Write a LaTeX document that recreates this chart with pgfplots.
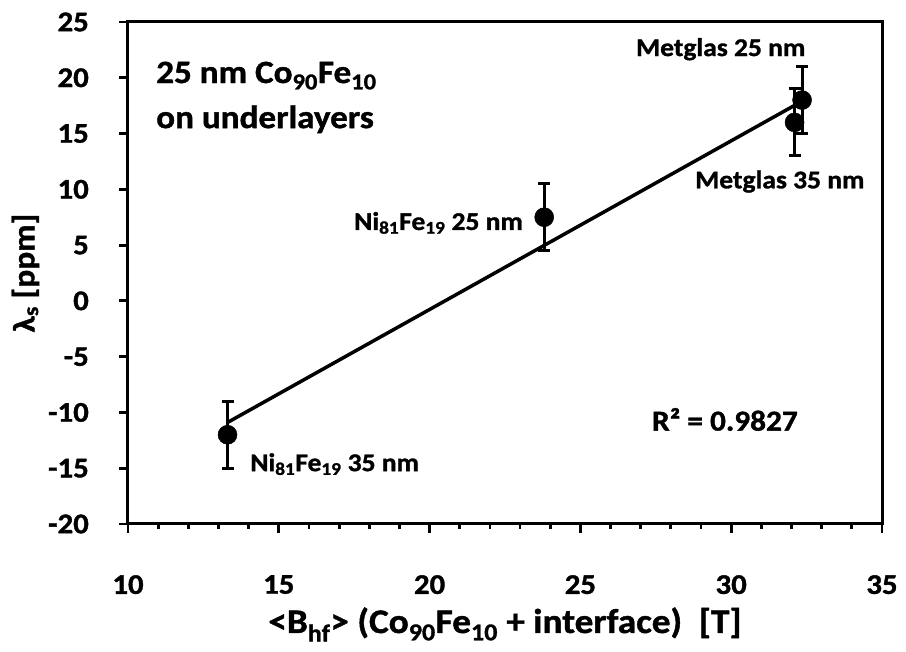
\documentclass[border=0pt]{standalone}
\usepackage{pgfplots}
\pgfplotsset{compat=1.18}
\usepackage{fontspec}
\setmainfont{Carlito}[BoldFont={Carlito Bold}, BoldFeatures={FakeStretch=1.08, FakeBold=1.2}]

% magnetostriction vs hyperfine field
\pgfplotstableread{
x      y     e
13.3  -12.0  3
23.8    7.5  3
32.1   16.0  3
32.35  18.0  3
}\lambdadata

\begin{document}
\begin{tikzpicture}
\useasboundingbox (-128pt,-128pt) rectangle (778pt,524pt);
\begin{axis}[
  scale only axis,
  width=754pt, height=502pt,
  xmin=10, xmax=35, ymin=-20, ymax=25,
  xtick={10,15,...,35}, ytick={-20,-15,...,25},
  minor x tick num=4,
  xtick pos=left, ytick pos=left,
  tick align=outside,
  major tick length=9pt, minor tick length=5pt,
  every tick/.style={black, line width=2.8pt},
  axis line style={black, line width=3pt},
  /pgf/number format/assume math mode=true,
  ticklabel style={font=\fontsize{28.5}{34}\selectfont\bfseries},
  yticklabel style={anchor=east, inner sep=0pt, xshift=-30pt},
  xticklabel style={anchor=north, inner sep=0pt, yshift=-42pt},
  xlabel={<B\textsubscript{hf}> (Co\textsubscript{90}Fe\textsubscript{10} + interface)\ \ [T]},
  xlabel style={at={(rel axis cs:0.5,0)}, anchor=base, yshift=-109pt,
    font=\fontsize{34.5}{40}\selectfont\bfseries},
  ylabel={λ\textsubscript{s} [ppm]},
  ylabel style={at={(axis description cs:-0.136,0.5)}, anchor=center,
    font=\fontsize{31}{36}\selectfont\bfseries},
  clip=false,
]
% data points with ±3 ppm error bars
\addplot[only marks, mark=*, mark size=9.5pt, mark options={fill=black, draw=black, line width=0.5pt},
  error bars/.cd, y dir=both, y explicit,
  error bar style={line width=3pt, black},
  error mark options={rotate=90, mark size=6pt, line width=3pt, black}]
  table[x=x, y=y, y error=e] {\lambdadata};
% linear fit
\addplot[black, line width=3.5pt, no marks] coordinates {(13.3,-10.9) (32.35,17.9)};

\node[anchor=base west, inner sep=0pt, font=\fontsize{32.5}{38}\selectfont\bfseries] at (axis cs:10.93,19.53)
  {25 nm Co\textsubscript{90}Fe\textsubscript{10}};
\node[anchor=base west, inner sep=0pt, font=\fontsize{32.5}{38}\selectfont\bfseries] at (axis cs:10.93,15.49)
  {on underlayers};
\node[anchor=base west, inner sep=0pt, font=\fontsize{29}{34}\selectfont\bfseries] at (axis cs:27.37,-11.63)
  {R² = 0.9827};
\node[anchor=base west, inner sep=0pt, font=\fontsize{25.5}{30}\selectfont\bfseries] at (axis cs:26.84,21.95)
  {Metglas 25 nm};
\node[anchor=base west, inner sep=0pt, font=\fontsize{25.5}{30}\selectfont\bfseries] at (axis cs:28.80,10.09)
  {Metglas 35 nm};
\node[anchor=base east, inner sep=0pt, font=\fontsize{25.5}{30}\selectfont\bfseries] at (axis cs:23.10,6.36)
  {Ni\textsubscript{81}Fe\textsubscript{19} 25 nm};
\node[anchor=base west, inner sep=0pt, font=\fontsize{25.5}{30}\selectfont\bfseries] at (axis cs:14.05,-15.26)
  {Ni\textsubscript{81}Fe\textsubscript{19} 35 nm};
\end{axis}
\end{tikzpicture}
\end{document}
